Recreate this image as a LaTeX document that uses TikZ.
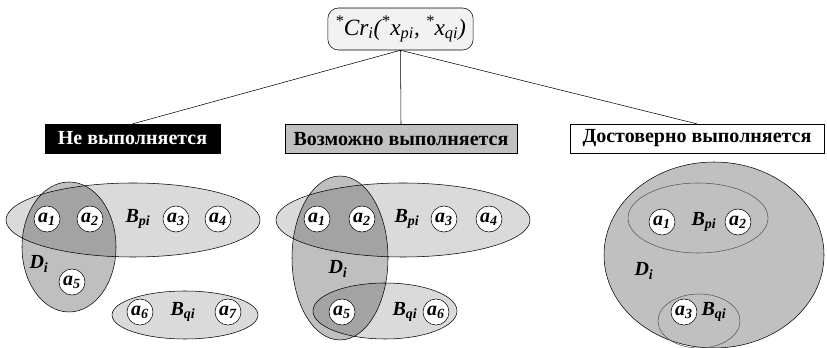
\documentclass[tikz,border=0pt]{standalone}
\usepackage{fontspec}
\setmainfont{Liberation Serif}
\usetikzlibrary{shapes,positioning}

\definecolor{setgray}{HTML}{DADADA}
\definecolor{boxgray}{HTML}{C0C0C0}
\definecolor{topgray}{HTML}{F2F2F2}
\definecolor{rimgray}{HTML}{555555}

\begin{document}
\begin{tikzpicture}[
    x=0.75pt, y=-0.75pt,
    elem/.style={circle, draw, fill=white, inner sep=0pt, minimum size=19.5pt,
        font=\fontsize{15}{15}\selectfont\bfseries\itshape},
    setB/.style={ellipse, draw, fill=setgray, inner sep=0pt},
    setD/.style={ellipse, draw, fill=black, fill opacity=0.25, inner sep=0pt},
    lbl/.style={font=\fontsize{15}{15}\selectfont\bfseries\itshape},
    verdict/.style={draw, minimum height=21.5pt, inner sep=0pt,
        font=\fontsize{15}{15}\selectfont\bfseries}
]
    \useasboundingbox (0,0) rectangle (827,348);

    % criterion
    \node[draw, rounded corners=8pt, fill=topgray, minimum width=109pt, minimum height=31.5pt,
        inner sep=0pt, font=\fontsize{17.5}{17.5}\selectfont\itshape] (crit) at (400.5,29)
        {\textsuperscript{*}Cr\textsubscript{i}(\textsuperscript{*}x\textsubscript{pi}, \textsuperscript{*}x\textsubscript{qi})};

    % verdicts
    \node[verdict, fill=black, text=white, minimum width=131pt] (notsat) at (132.5,138.5) {Не выполняется};
    \node[verdict, fill=boxgray, minimum width=174pt] (maybesat) at (401,139) {Возможно выполняется};
    \node[verdict, fill=white, minimum width=190.5pt] (suresat) at (697,138.5) {Достоверно выполняется};

    \draw (crit.south) -- (notsat.north);
    \draw (crit.south) -- (maybesat.north);
    \draw (crit.south) -- (suresat.north);

    % not satisfied
    \node[setB, minimum width=190.5pt, minimum height=55.5pt] (Bp1) at (133,220) {};
    \node[setB, minimum width=109.5pt, minimum height=36pt] (Bq1) at (185,315) {};
    \node[setD, minimum width=70.5pt, minimum height=97.5pt] (D1) at (69,247) {};
    \node[elem] (a11) at (47,219) {a\textsubscript{1}};
    \node[elem] (a12) at (90,219) {a\textsubscript{2}};
    \node[lbl] (lBp1) at (138,219) {B\textsubscript{pi}};
    \node[elem] (a13) at (176,219) {a\textsubscript{3}};
    \node[elem] (a14) at (218,219) {a\textsubscript{4}};
    \node[lbl] (lD1) at (39,264) {D\textsubscript{i}};
    \node[elem] (a15) at (72,282) {a\textsubscript{5}};
    \node[elem] (a16) at (140,312) {a\textsubscript{6}};
    \node[lbl] (lBq1) at (183,312) {B\textsubscript{qi}};
    \node[elem] (a17) at (228,312) {a\textsubscript{7}};

    % possibly satisfied
    \node[setB, minimum width=190.5pt, minimum height=55.5pt] (Bp2) at (403,220) {};
    \node[setB, minimum width=108pt, minimum height=42pt] (Bq2) at (385,311) {};
    \node[setD, minimum width=72pt, minimum height=123pt] (D2) at (340,258) {};
    \node[elem] (a21) at (317,219) {a\textsubscript{1}};
    \node[elem] (a22) at (362,219) {a\textsubscript{2}};
    \node[lbl] (lBp2) at (407,219) {B\textsubscript{pi}};
    \node[elem] (a23) at (444,219) {a\textsubscript{3}};
    \node[elem] (a24) at (489,219) {a\textsubscript{4}};
    \node[lbl] (lD2) at (338,269) {D\textsubscript{i}};
    \node[elem] (a25) at (342,312) {a\textsubscript{5}};
    \node[lbl] (lBq2) at (405,312) {B\textsubscript{qi}};
    \node[elem] (a26) at (436,312) {a\textsubscript{6}};

    % surely satisfied
    \node[ellipse, draw, fill=boxgray, inner sep=0pt, minimum width=165pt, minimum height=139.5pt] (D3) at (714,255) {};
    \node[ellipse, draw=rimgray, inner sep=0pt, minimum width=105pt, minimum height=52.5pt] (Bp3) at (698,218) {};
    \node[ellipse, draw=rimgray, inner sep=0pt, minimum width=61.5pt, minimum height=40.5pt] (Bq3) at (699,321) {};
    \node[elem] (a31) at (662,222) {a\textsubscript{1}};
    \node[lbl] (lBp3) at (704,222) {B\textsubscript{pi}};
    \node[elem] (a32) at (738,222) {a\textsubscript{2}};
    \node[lbl] (lD3) at (644,271) {D\textsubscript{i}};
    \node[elem] (a33) at (684,312) {a\textsubscript{3}};
    \node[lbl] (lBq3) at (714,312) {B\textsubscript{qi}};
\end{tikzpicture}
\end{document}
